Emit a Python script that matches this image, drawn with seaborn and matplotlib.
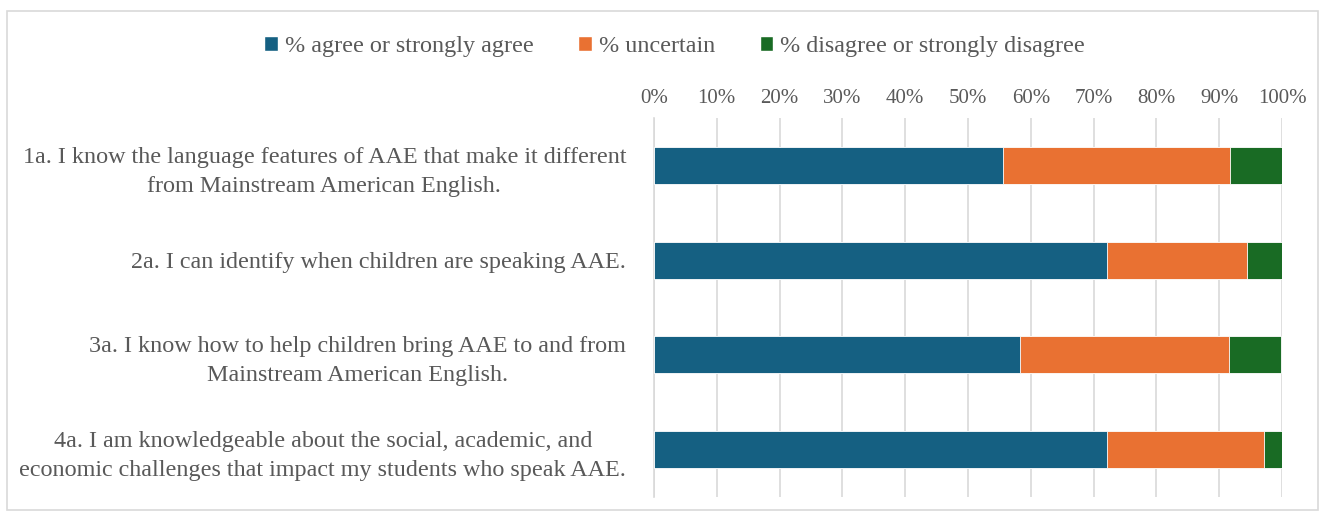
import pandas as pd
import matplotlib.pyplot as plt
import seaborn as sns
from matplotlib.patches import Rectangle, Patch

statements = [
    "1a. I know the language features of AAE that make it different\nfrom Mainstream American English.",
    "2a. I can identify when children are speaking AAE.",
    "3a. I know how to help children bring AAE to and from\nMainstream American English.",
    "4a. I am knowledgeable about the social, academic, and\neconomic challenges that impact my students who speak AAE.",
]
agree = [55.6, 72.2, 58.3, 72.2]
uncertain = [36.1, 22.2, 33.3, 25.0]
disagree = [8.3, 5.6, 8.3, 2.8]
series_names = ["% agree or strongly agree", "% uncertain", "% disagree or strongly disagree"]
colors = ["#156082", "#E97132", "#196B24"]
tick_values = list(range(0, 101, 10))

df = pd.DataFrame({"statement": statements, "agree": agree,
                   "uncertain": uncertain, "disagree": disagree})
df["cum_agree"] = df["agree"]
df["cum_uncertain"] = df["agree"] + df["uncertain"]
df["cum_disagree"] = df["cum_uncertain"] + df["disagree"]

sns.set_style("white")
plt.rcParams["font.family"] = ["Liberation Serif", "DejaVu Serif"]
text_color = "#595959"

fig = plt.figure(figsize=(13.23, 5.19), dpi=100)
ax = fig.add_axes([0.4943, 0.0424, 0.4747, 0.7302])

# stacked bars: draw cumulative totals from largest to smallest
for col, color in zip(["cum_disagree", "cum_uncertain", "cum_agree"], colors[::-1]):
    sns.barplot(data=df, x=col, y="statement", color=color, orient="h", saturation=1,
                width=0.39, edgecolor="white", linewidth=0.6, ax=ax, zorder=3)

ax.set_xlim(0, 100)
ax.set_ylim(3.5, -0.5)
ax.set_xticks(tick_values)
ax.set_xticklabels([f"{v}%" for v in tick_values])
ax.xaxis.tick_top()
ax.tick_params(axis="x", length=0, pad=7, labelsize=15, labelcolor=text_color)
ax.tick_params(axis="y", length=0, pad=20, labelsize=17.4, labelcolor=text_color)
for lbl in ax.get_yticklabels():
    lbl.set_multialignment("center")
    lbl.set_linespacing(1.5)
ax.set_xlabel("")
ax.set_ylabel("")
ax.grid(axis="x", color="#D9D9D9", linewidth=1.2, zorder=0)
ax.set_axisbelow(True)
for side in ["top", "right", "bottom"]:
    ax.spines[side].set_visible(False)
ax.spines["left"].set_color("#D9D9D9")
ax.spines["left"].set_linewidth(1.2)

handles = [Patch(facecolor=c, label=n) for c, n in zip(colors, series_names)]
leg = fig.legend(handles=handles, loc="center", bbox_to_anchor=(0.51, 0.91), ncol=3,
                 frameon=False, fontsize=17.4, handlelength=0.55, handleheight=0.55,
                 handletextpad=0.3, columnspacing=1.85)
for t in leg.get_texts():
    t.set_color(text_color)

fig.patches.append(Rectangle((7 / 1323, 9 / 519), 1311 / 1323, 499 / 519,
                             transform=fig.transFigure, fill=False,
                             edgecolor="#D9D9D9", linewidth=1.2))

fig.savefig("out.png", dpi=100)
